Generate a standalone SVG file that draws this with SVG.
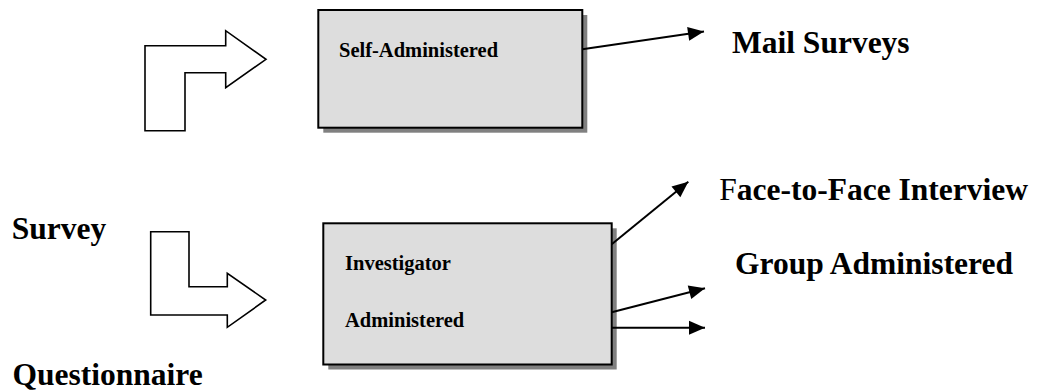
<svg xmlns="http://www.w3.org/2000/svg" width="1044" height="391" viewBox="0 0 1044 391">
<style>
.big{font-family:"Liberation Serif","Times New Roman",serif;font-weight:bold;font-size:31.5px;fill:#000}
.small{font-family:"Liberation Serif","Times New Roman",serif;font-weight:bold;font-size:20.5px;fill:#000}
.box{fill:#dddddd;stroke:#000;stroke-width:2}
.shadow{fill:#808080}
.bend{fill:#fff;stroke:#000;stroke-width:1.6;stroke-linejoin:miter}
.conn{fill:none;stroke:#000;stroke-width:2;marker-end:url(#ah)}
</style>
<defs>
<marker id="ah" markerUnits="userSpaceOnUse" markerWidth="17" markerHeight="15" refX="16" refY="7" orient="auto" overflow="visible">
<path d="M0,0 L16,7 L0,14 z" fill="#000"/>
</marker>
</defs>
<rect width="1044" height="391" fill="#fff"/>
<g id="survey-label"><text class="big" x="11.7" y="238.5">Survey</text></g>
<g id="questionnaire-label"><text class="big" x="12.5" y="385">Questionnaire</text></g>
<g id="bend-arrow-up"><polygon class="bend" points="145,130.7 145,45.7 225.7,45.7 225.7,30.7 266,59.3 225.7,87.7 225.7,72.7 185,72.7 185,130.7"/></g>
<g id="bend-arrow-down"><polygon class="bend" points="150.7,231.7 189,231.7 189,286.7 227.3,286.7 227.3,273.3 265.7,300 227.3,327.3 227.3,315 150.7,315"/></g>
<g id="self-administered">
<rect class="shadow" x="323.3" y="15" width="264" height="117.7"/>
<rect class="box" x="318.3" y="10" width="264" height="117.7"/>
<text class="small" x="339" y="57.3">Self-Administered</text>
</g>
<g id="investigator-administered">
<rect class="shadow" x="328.3" y="228.3" width="288.4" height="141.2"/>
<rect class="box" x="323.3" y="223.3" width="288.4" height="141.2"/>
<text class="small" x="345" y="270">Investigator</text>
<text class="small" x="345" y="327.3">Administered</text>
</g>
<g id="mail-surveys"><text class="big" x="732" y="53.3">Mail Surveys</text></g>
<g id="face-to-face"><text class="big" x="719.3" y="200"><tspan font-weight="normal">F</tspan>ace-to-Face Interview</text></g>
<g id="group-administered"><text class="big" x="735" y="274">Group Administered</text></g>
<g id="connectors">
<line class="conn" x1="582.3" y1="49.3" x2="704" y2="31.5"/>
<line class="conn" x1="611.7" y1="244.3" x2="688.3" y2="181.7"/>
<line class="conn" x1="611.7" y1="312.3" x2="705" y2="288.3"/>
<line class="conn" x1="611.7" y1="327.7" x2="705" y2="327.7"/>
</g>
</svg>
